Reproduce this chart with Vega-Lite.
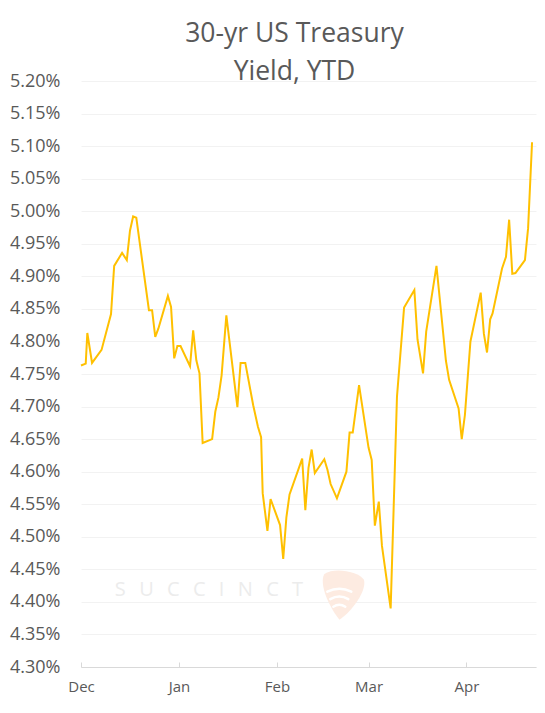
{
  "$schema": "https://vega.github.io/schema/vega-lite/v6.json",
  "width": 455,
  "height": 586,
  "autosize": {"type": "none"},
  "padding": {"left": 81, "top": 81, "right": 9, "bottom": 46},
  "background": "white",
  "config": {"view": {"stroke": null}, "font": "Open Sans"},
  "title": {
    "text": ["30-yr US Treasury", "Yield, YTD"],
    "font": "Open Sans",
    "fontSize": 26.5,
    "fontWeight": "normal",
    "color": "#595959",
    "anchor": "middle",
    "lineHeight": 38,
    "dx": -14,
    "offset": -13
  },
  "datasets": {
    "yields": [
      {"date": "2023-12-01T00:00:00Z", "yield": 4.763},
      {"date": "2023-12-02T12:00:00Z", "yield": 4.766},
      {"date": "2023-12-03T00:00:00Z", "yield": 4.813},
      {"date": "2023-12-04T12:00:00Z", "yield": 4.767},
      {"date": "2023-12-07T12:00:00Z", "yield": 4.787},
      {"date": "2023-12-10T12:00:00Z", "yield": 4.842},
      {"date": "2023-12-11T12:00:00Z", "yield": 4.916},
      {"date": "2023-12-14T00:00:00Z", "yield": 4.936},
      {"date": "2023-12-15T12:00:00Z", "yield": 4.925},
      {"date": "2023-12-16T12:00:00Z", "yield": 4.970},
      {"date": "2023-12-17T12:00:00Z", "yield": 4.992},
      {"date": "2023-12-18T12:00:00Z", "yield": 4.990},
      {"date": "2023-12-22T12:00:00Z", "yield": 4.848},
      {"date": "2023-12-23T12:00:00Z", "yield": 4.848},
      {"date": "2023-12-24T12:00:00Z", "yield": 4.807},
      {"date": "2023-12-25T12:00:00Z", "yield": 4.820},
      {"date": "2023-12-28T12:00:00Z", "yield": 4.870},
      {"date": "2023-12-29T12:00:00Z", "yield": 4.853},
      {"date": "2023-12-30T12:00:00Z", "yield": 4.774},
      {"date": "2023-12-31T12:00:00Z", "yield": 4.793},
      {"date": "2024-01-01T12:00:00Z", "yield": 4.793},
      {"date": "2024-01-04T12:00:00Z", "yield": 4.762},
      {"date": "2024-01-05T12:00:00Z", "yield": 4.817},
      {"date": "2024-01-06T12:00:00Z", "yield": 4.771},
      {"date": "2024-01-07T12:00:00Z", "yield": 4.751},
      {"date": "2024-01-08T12:00:00Z", "yield": 4.644},
      {"date": "2024-01-11T12:00:00Z", "yield": 4.650},
      {"date": "2024-01-12T12:00:00Z", "yield": 4.692},
      {"date": "2024-01-13T12:00:00Z", "yield": 4.714},
      {"date": "2024-01-14T12:00:00Z", "yield": 4.748},
      {"date": "2024-01-16T00:00:00Z", "yield": 4.840},
      {"date": "2024-01-19T12:00:00Z", "yield": 4.699},
      {"date": "2024-01-20T12:00:00Z", "yield": 4.767},
      {"date": "2024-01-22T00:00:00Z", "yield": 4.767},
      {"date": "2024-01-24T12:00:00Z", "yield": 4.702},
      {"date": "2024-01-26T00:00:00Z", "yield": 4.669},
      {"date": "2024-01-27T00:00:00Z", "yield": 4.653},
      {"date": "2024-01-27T12:00:00Z", "yield": 4.567},
      {"date": "2024-01-29T00:00:00Z", "yield": 4.509},
      {"date": "2024-01-30T00:00:00Z", "yield": 4.558},
      {"date": "2024-02-02T00:00:00Z", "yield": 4.518},
      {"date": "2024-02-03T00:00:00Z", "yield": 4.466},
      {"date": "2024-02-04T00:00:00Z", "yield": 4.530},
      {"date": "2024-02-05T00:00:00Z", "yield": 4.565},
      {"date": "2024-02-09T00:00:00Z", "yield": 4.620},
      {"date": "2024-02-10T00:00:00Z", "yield": 4.541},
      {"date": "2024-02-11T00:00:00Z", "yield": 4.606},
      {"date": "2024-02-12T00:00:00Z", "yield": 4.634},
      {"date": "2024-02-13T00:00:00Z", "yield": 4.598},
      {"date": "2024-02-16T00:00:00Z", "yield": 4.619},
      {"date": "2024-02-17T00:00:00Z", "yield": 4.603},
      {"date": "2024-02-18T00:00:00Z", "yield": 4.581},
      {"date": "2024-02-20T00:00:00Z", "yield": 4.559},
      {"date": "2024-02-23T00:00:00Z", "yield": 4.600},
      {"date": "2024-02-24T00:00:00Z", "yield": 4.660},
      {"date": "2024-02-25T00:00:00Z", "yield": 4.660},
      {"date": "2024-02-27T00:00:00Z", "yield": 4.733},
      {"date": "2024-03-01T00:00:00Z", "yield": 4.637},
      {"date": "2024-03-02T00:00:00Z", "yield": 4.618},
      {"date": "2024-03-03T00:00:00Z", "yield": 4.517},
      {"date": "2024-03-04T06:00:00Z", "yield": 4.554},
      {"date": "2024-03-05T06:00:00Z", "yield": 4.486},
      {"date": "2024-03-08T00:00:00Z", "yield": 4.390},
      {"date": "2024-03-10T00:00:00Z", "yield": 4.715},
      {"date": "2024-03-12T06:00:00Z", "yield": 4.852},
      {"date": "2024-03-15T12:00:00Z", "yield": 4.879},
      {"date": "2024-03-16T12:00:00Z", "yield": 4.803},
      {"date": "2024-03-18T06:00:00Z", "yield": 4.751},
      {"date": "2024-03-19T06:00:00Z", "yield": 4.815},
      {"date": "2024-03-22T12:00:00Z", "yield": 4.916},
      {"date": "2024-03-25T12:00:00Z", "yield": 4.770},
      {"date": "2024-03-26T12:00:00Z", "yield": 4.741},
      {"date": "2024-03-29T12:00:00Z", "yield": 4.697},
      {"date": "2024-03-30T12:00:00Z", "yield": 4.650},
      {"date": "2024-03-31T12:00:00Z", "yield": 4.687},
      {"date": "2024-04-02T06:00:00Z", "yield": 4.800},
      {"date": "2024-04-05T12:00:00Z", "yield": 4.875},
      {"date": "2024-04-06T12:00:00Z", "yield": 4.812},
      {"date": "2024-04-07T12:00:00Z", "yield": 4.783},
      {"date": "2024-04-08T12:00:00Z", "yield": 4.834},
      {"date": "2024-04-09T06:00:00Z", "yield": 4.843},
      {"date": "2024-04-12T06:00:00Z", "yield": 4.912},
      {"date": "2024-04-13T12:00:00Z", "yield": 4.930},
      {"date": "2024-04-14T12:00:00Z", "yield": 4.987},
      {"date": "2024-04-15T12:00:00Z", "yield": 4.904},
      {"date": "2024-04-16T12:00:00Z", "yield": 4.905},
      {"date": "2024-04-19T12:00:00Z", "yield": 4.925},
      {"date": "2024-04-20T12:00:00Z", "yield": 4.974},
      {"date": "2024-04-21T18:00:00Z", "yield": 5.106}
    ],
    "brand": [{"name": "SUCCINCT"}]
  },
  "layer": [
    {
      "data": {"name": "yields"},
      "mark": {"type": "line", "color": "#FFC000", "strokeWidth": 2},
      "encoding": {
        "x": {
          "field": "date",
          "type": "temporal",
          "scale": {
            "type": "utc",
            "domain": [
              {"year": 2023, "month": 12, "date": 1, "utc": true},
              {"year": 2024, "month": 4, "date": 23, "utc": true}
            ]
          },
          "axis": {
            "title": null,
            "format": "%b",
            "tickCount": {"interval": "month", "step": 1},
            "grid": false,
            "labelFlush": false,
            "labelOverlap": false,
            "domainColor": "#d9d9d9",
            "tickColor": "#d9d9d9",
            "tickSize": -5,
            "labelPadding": 17,
            "labelFont": "Open Sans",
            "labelFontSize": 15,
            "labelColor": "#595959"
          }
        },
        "y": {
          "field": "yield",
          "type": "quantitative",
          "scale": {"domain": [4.3, 5.2], "nice": false, "zero": false},
          "axis": {
            "title": null,
            "values": [4.3, 4.35, 4.4, 4.45, 4.5, 4.55, 4.6, 4.65, 4.7, 4.75, 4.8, 4.85, 4.9, 4.95, 5.0, 5.05, 5.1, 5.15, 5.2],
            "tickCount": 19,
            "labelExpr": "format(datum.value, '.2f') + '%'",
            "labelOverlap": false,
            "domain": false,
            "ticks": false,
            "grid": true,
            "gridColor": "#f2f2f2",
            "labelPadding": 21,
            "labelFont": "Open Sans",
            "labelFontSize": 18,
            "labelColor": "#595959"
          }
        }
      }
    },
    {
      "data": {"name": "brand"},
      "mark": {"type": "text", "text": "S\u2002\u2009U\u2002\u2009C\u2002\u2009C\u2002\u2009I\u2002\u2009N\u2002\u2009C\u2002\u2009T", "font": "Open Sans", "fontSize": 20, "fill": "#ececec", "align": "center", "baseline": "middle"},
      "encoding": {
        "x": {"datum": {"year": 2024, "month": 1, "date": 10, "hours": 12, "utc": true}, "type": "temporal"},
        "y": {"datum": 4.418, "type": "quantitative", "axis": {"values": [4.3, 4.35, 4.4, 4.45, 4.5, 4.55, 4.6, 4.65, 4.7, 4.75, 4.8, 4.85, 4.9, 4.95, 5.0, 5.05, 5.1, 5.15, 5.2], "tickCount": 19}}
      }
    },
    {
      "data": {"name": "brand"},
      "mark": {"type": "point", "filled": true, "fill": "#fdebe1", "stroke": null, "opacity": 1, "size": 2500, "angle": 8, "shape": "M -0.8 -0.72 C -0.45 -1.05 0.5 -1.02 0.8 -0.72 C 0.98 -0.3 0.5 0.6 0.05 1 C -0.4 0.6 -0.98 -0.3 -0.8 -0.72 Z"},
      "encoding": {
        "x": {"datum": {"year": 2024, "month": 2, "date": 21, "hours": 12, "utc": true}, "type": "temporal"},
        "y": {"datum": 4.411, "type": "quantitative", "axis": {"values": [4.3, 4.35, 4.4, 4.45, 4.5, 4.55, 4.6, 4.65, 4.7, 4.75, 4.8, 4.85, 4.9, 4.95, 5.0, 5.05, 5.1, 5.15, 5.2], "tickCount": 19}}
      }
    },
    {
      "data": {"name": "brand"},
      "mark": {"type": "point", "filled": false, "stroke": "#ffffff", "strokeWidth": 2.5, "opacity": 1, "size": 900, "strokeCap": "round", "shape": "M -0.8 -0.55 Q 0 -0.95 0.8 -0.55 M -0.6 -0.05 Q 0 -0.4 0.6 -0.05 M -0.4 0.45 Q 0 0.2 0.4 0.45"},
      "encoding": {
        "x": {"datum": {"year": 2024, "month": 2, "date": 20, "hours": 18, "utc": true}, "type": "temporal"},
        "y": {"datum": 4.403, "type": "quantitative", "axis": {"values": [4.3, 4.35, 4.4, 4.45, 4.5, 4.55, 4.6, 4.65, 4.7, 4.75, 4.8, 4.85, 4.9, 4.95, 5.0, 5.05, 5.1, 5.15, 5.2], "tickCount": 19}}
      }
    }
  ]
}
